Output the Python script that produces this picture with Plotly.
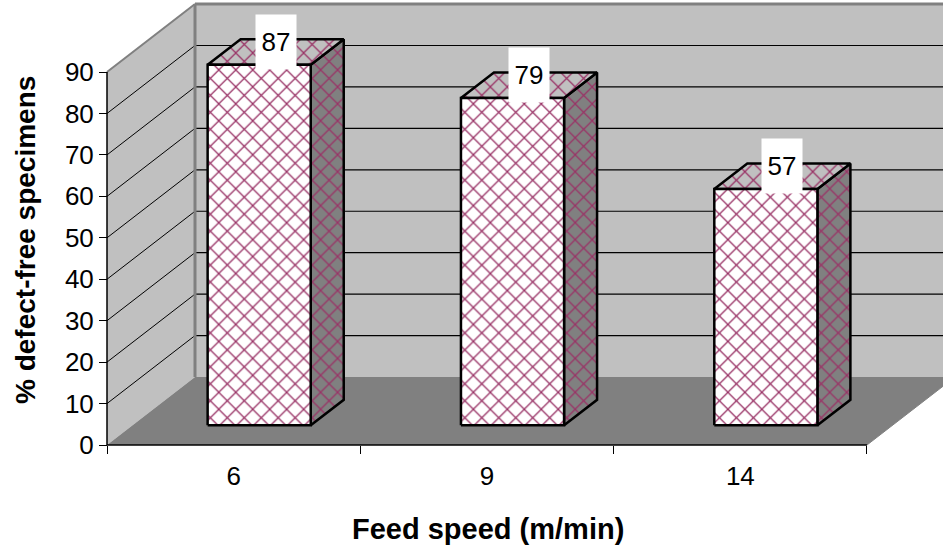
import plotly.graph_objects as go

# ---- data ----
categories = ["6", "9", "14"]
defect_free_pct = [87, 79, 57]
y_tick_values = [0, 10, 20, 30, 40, 50, 60, 70, 80, 90]
y_tick_text = ["0", "10", "20", "30", "40", "50", "60", "70", "80", "90"]
x_title = "Feed speed (m/min)"
y_title = "% defect-free specimens"

# ---- geometry / style ----
W, H = 943, 548
PX_CAT = 253.33          # pixels per category slot
PX_UNIT = 4.144          # pixels per value unit
X0_PX, Y0_PX = 107, 445  # pixel of origin (front-left, value 0)
L_PX, R_PX, T_PX, B_PX = 100, 943, 2, 455
DX = 88 / PX_CAT         # depth offset in category units
DY = 68 / PX_UNIT        # depth offset in value units
VMAX = 90
N = len(categories)
D0, D1 = 0.29, 0.665     # bar front / back depth fraction
HALF = 0.2035            # bar half width (category units)

xr = [(L_PX - X0_PX) / PX_CAT, (R_PX - X0_PX) / PX_CAT]
yr = [(Y0_PX - B_PX) / PX_UNIT, (Y0_PX - T_PX) / PX_UNIT]

FONT = "Liberation Sans, Arial, sans-serif"
WALL = "#C0C0C0"
FLOOR = "#808080"
EDGE = "#808080"
PAT = "#993366"

fig = go.Figure()


def poly(xs, ys, fill, line_color=None, line_width=0, pattern=None):
    xs = list(xs) + [xs[0]]
    ys = list(ys) + [ys[0]]
    kw = {}
    if pattern is not None:
        kw["fillpattern"] = pattern
    fig.add_trace(go.Scatter(
        x=xs, y=ys, mode="lines", fill="toself", fillcolor=fill,
        line=dict(color=line_color or fill, width=line_width),
        hoverinfo="skip", showlegend=False, **kw))


def seg(xs, ys, color, width):
    fig.add_trace(go.Scatter(x=xs, y=ys, mode="lines",
                             line=dict(color=color, width=width),
                             hoverinfo="skip", showlegend=False))


# back wall
poly([DX, N + DX + 1, N + DX + 1, DX], [DY, DY, VMAX + DY, VMAX + DY], WALL)
# side wall
poly([0, DX, DX, 0], [0, DY, VMAX + DY, VMAX], WALL)
# floor
poly([0, N, N + DX, DX], [0, 0, DY, DY], FLOOR)

# gridlines
for v in y_tick_values[1:-1]:
    seg([0, DX], [v, v + DY], "#000000", 1)
    seg([DX, N + DX + 1], [v + DY, v + DY], "#000000", 1.2)
# wall edges
seg([0, DX], [VMAX, VMAX + DY], EDGE, 2)
seg([DX, N + DX + 1], [VMAX + DY, VMAX + DY], EDGE, 3)
seg([DX, DX], [DY, VMAX + DY], EDGE, 3)
seg([N, N + DX], [0, DY], EDGE, 1)

# axis lines
seg([0, N], [0, 0], "#000000", 1.5)
seg([0, 0], [0, VMAX], "#000000", 1.5)


def pattern(bg):
    return dict(shape="x", fgcolor=PAT, bgcolor=bg, size=12,
                solidity=0.2, fillmode="replace")


annotations = []
for i, v in enumerate(defect_free_pct):
    c = i + 0.5
    xl0, xr0 = c - HALF + D0 * DX, c + HALF + D0 * DX
    xl1, xr1 = c - HALF + D1 * DX, c + HALF + D1 * DX
    yb0, yt0 = D0 * DY, v + D0 * DY
    yb1, yt1 = D1 * DY, v + D1 * DY
    # right side face
    poly([xr0, xr1, xr1, xr0], [yb0, yb1, yt1, yt0], FLOOR, "#000000", 2.5,
         pattern(FLOOR))
    # top face
    poly([xl0, xr0, xr1, xl1], [yt0, yt0, yt1, yt1], WALL, "#000000", 2.5,
         pattern(WALL))
    # front face
    poly([xl0, xr0, xr0, xl0], [yb0, yb0, yt0, yt0], "#FFFFFF", "#000000", 2.5,
         pattern("#FFFFFF"))
    dm = (D0 + D1) / 2
    annotations.append(dict(
        x=c + dm * DX, y=v + dm * DY, xref="x", yref="y", yshift=10,
        text=str(v), showarrow=False, bgcolor="#FFFFFF", width=40, height=54,
        borderpad=0, font=dict(family=FONT, size=26, color="#000000")))

plot_w = R_PX - L_PX
plot_h = B_PX - T_PX
annotations.append(dict(
    text=f"<b>{x_title}</b>", xref="paper", yref="paper",
    x=(488 - L_PX) / plot_w, y=(B_PX - 529) / plot_h,
    xanchor="center", yanchor="middle", showarrow=False,
    font=dict(family=FONT, size=29, color="#000000")))
annotations.append(dict(
    text=f"<b>{y_title}</b>", xref="paper", yref="paper",
    x=(25 - L_PX) / plot_w, y=(B_PX - 240) / plot_h, textangle=-90,
    xanchor="center", yanchor="middle", showarrow=False,
    font=dict(family=FONT, size=28, color="#000000")))

fig.update_layout(
    width=W, height=H,
    margin=dict(l=L_PX, r=W - R_PX, t=T_PX, b=H - B_PX, autoexpand=False),
    paper_bgcolor="#FFFFFF", plot_bgcolor="#FFFFFF",
    showlegend=False,
    annotations=annotations,
    xaxis=dict(
        range=xr, showgrid=False, zeroline=False, showline=False,
        anchor="free", position=(B_PX - Y0_PX) / plot_h,
        tickvals=[i + 0.5 for i in range(N)], ticktext=categories,
        ticks="", ticklabelstandoff=13,
        tickfont=dict(family=FONT, size=26, color="#000000"),
        minor=dict(tickvals=list(range(N + 1)), ticks="outside", ticklen=8,
                   tickcolor="#000000", tickwidth=1, showgrid=False),
    ),
    yaxis=dict(
        range=yr, showgrid=False, zeroline=False, showline=False,
        anchor="free", position=(X0_PX - L_PX) / plot_w,
        tickvals=y_tick_values, ticktext=y_tick_text,
        ticks="outside", ticklen=8, tickcolor="#000000", tickwidth=1,
        tickfont=dict(family=FONT, size=26, color="#000000"),
    ),
)

fig.write_html("out.html")
